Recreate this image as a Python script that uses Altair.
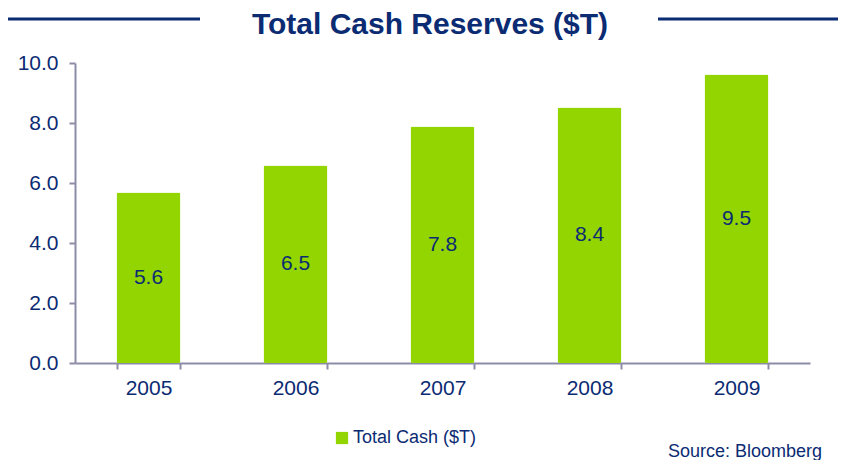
import altair as alt
import pandas as pd

years = ["2005", "2006", "2007", "2008", "2009"]
values = [5.68, 6.58, 7.88, 8.52, 9.62]
labels = ["5.6", "6.5", "7.8", "8.4", "9.5"]
series = "Total Cash ($T)"
title_text = "Total Cash Reserves ($T)"
source_text = "Source: Bloomberg"

df = pd.DataFrame({"year": years, "value": values, "label": labels, "series": [series] * len(years)})
df["half"] = df["value"] / 2

NAVY = "#0b2b73"
GREEN = "#93d500"
AXIS = "#8c8ca8"
FONT = "Liberation Sans"

W, H = 735, 300

xenc = alt.X("year:N", scale=alt.Scale(paddingInner=0.565, paddingOuter=0.2825),
             axis=alt.Axis(title=None, labelAngle=0, labelFontSize=21, labelColor=NAVY, labelFont=FONT,
                           domainColor=AXIS, tickColor=AXIS, tickSize=6, tickWidth=2, domainWidth=2,
                           labelPadding=8, tickBand="extent", grid=False))

bars = alt.Chart(df).mark_bar(cornerRadius=2).encode(
    x=xenc,
    y=alt.Y("value:Q", scale=alt.Scale(domain=[0, 10], nice=False),
            axis=alt.Axis(title=None, values=[0, 2, 4, 6, 8, 10], format=".1f", labelFontSize=21,
                          labelColor=NAVY, labelFont=FONT, domainColor=AXIS, tickColor=AXIS,
                          tickSize=6, tickWidth=2, domainWidth=2, labelPadding=11, grid=False)),
    color=alt.Color("series:N", scale=alt.Scale(domain=[series], range=[GREEN]),
                    legend=alt.Legend(title=None, orient="none", legendX=258, legendY=366,
                                      symbolType="square", symbolSize=150, symbolStrokeWidth=0,
                                      labelFontSize=18, labelColor=NAVY, labelFont=FONT,
                                      labelOffset=2)),
)

bar_text = alt.Chart(df).mark_text(fontSize=21, color=NAVY, font=FONT, baseline="middle").encode(
    x="year:N", y="half:Q", text="label:N"
)

title_df = pd.DataFrame({"t": [title_text]})
title = alt.Chart(title_df).mark_text(fontSize=30, fontWeight="bold", color=NAVY,
                                      font=FONT, baseline="middle").encode(
    x=alt.value(355), y=alt.value(-38), text="t:N"
)

line_left = alt.Chart(title_df).mark_rule(color=NAVY, strokeWidth=3).encode(
    x=alt.value(-70), x2=alt.value(125), y=alt.value(-44)
)
line_right = alt.Chart(title_df).mark_rule(color=NAVY, strokeWidth=3).encode(
    x=alt.value(583), x2=alt.value(770), y=alt.value(-44)
)

src_df = pd.DataFrame({"s": [source_text]})
source = alt.Chart(src_df).mark_text(fontSize=18, color=NAVY, font=FONT, align="right",
                                     baseline="middle").encode(
    x=alt.value(747), y=alt.value(389), text="s:N"
)

chart = alt.layer(bars, bar_text, title, line_left, line_right, source).properties(
    width=W, height=H,
    autosize=alt.AutoSizeParams(type="none"),
    padding={"left": 67, "top": 55, "right": 28, "bottom": 97},
).configure_view(stroke=None)

chart.save("out.html", embed_options={"renderer": "svg", "actions": False})
